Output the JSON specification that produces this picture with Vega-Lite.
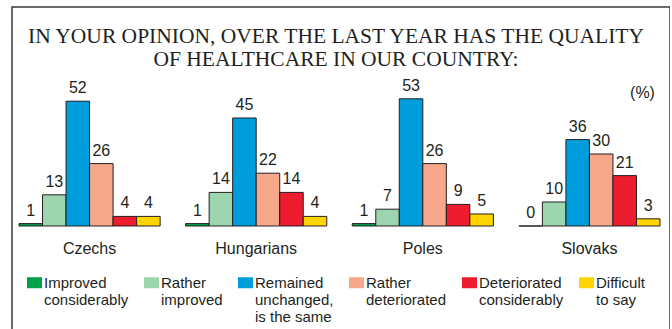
{
  "$schema": "https://vega.github.io/schema/vega-lite/v6.json",
  "autosize": "none",
  "padding": {"left": 12, "top": 7, "right": 0, "bottom": 0},
  "width": 658,
  "height": 325,
  "background": "white",
  "config": {
    "view": {"stroke": "#3a3a3a", "strokeWidth": 1.5},
    "font": "Liberation Sans"
  },
  "title": {
    "text": ["IN YOUR OPINION, OVER THE LAST YEAR HAS THE QUALITY", "OF HEALTHCARE IN OUR COUNTRY:"],
    "font": "Liberation Serif",
    "fontSize": 21.5,
    "fontWeight": "normal",
    "color": "#231f20",
    "lineHeight": 23,
    "anchor": "middle",
    "frame": "group",
    "dx": -5,
    "offset": -63
  },
  "data": {
    "values": [
      {"nation": "Czechs", "cat": "Improved considerably", "value": 1},
      {"nation": "Czechs", "cat": "Rather improved", "value": 13},
      {"nation": "Czechs", "cat": "Remained unchanged, is the same", "value": 52},
      {"nation": "Czechs", "cat": "Rather deteriorated", "value": 26},
      {"nation": "Czechs", "cat": "Deteriorated considerably", "value": 4},
      {"nation": "Czechs", "cat": "Difficult to say", "value": 4},
      {"nation": "Hungarians", "cat": "Improved considerably", "value": 1},
      {"nation": "Hungarians", "cat": "Rather improved", "value": 14},
      {"nation": "Hungarians", "cat": "Remained unchanged, is the same", "value": 45},
      {"nation": "Hungarians", "cat": "Rather deteriorated", "value": 22},
      {"nation": "Hungarians", "cat": "Deteriorated considerably", "value": 14},
      {"nation": "Hungarians", "cat": "Difficult to say", "value": 4},
      {"nation": "Poles", "cat": "Improved considerably", "value": 1},
      {"nation": "Poles", "cat": "Rather improved", "value": 7},
      {"nation": "Poles", "cat": "Remained unchanged, is the same", "value": 53},
      {"nation": "Poles", "cat": "Rather deteriorated", "value": 26},
      {"nation": "Poles", "cat": "Deteriorated considerably", "value": 9},
      {"nation": "Poles", "cat": "Difficult to say", "value": 5},
      {"nation": "Slovaks", "cat": "Improved considerably", "value": 0},
      {"nation": "Slovaks", "cat": "Rather improved", "value": 10},
      {"nation": "Slovaks", "cat": "Remained unchanged, is the same", "value": 36},
      {"nation": "Slovaks", "cat": "Rather deteriorated", "value": 30},
      {"nation": "Slovaks", "cat": "Deteriorated considerably", "value": 21},
      {"nation": "Slovaks", "cat": "Difficult to say", "value": 3}
    ]
  },
  "encoding": {
    "x": {
      "field": "nation",
      "type": "nominal",
      "sort": ["Czechs", "Hungarians", "Poles", "Slovaks"],
      "scale": {"range": [7, 648], "paddingInner": 0.153, "paddingOuter": 0},
      "axis": {
        "title": null,
        "orient": "bottom",
        "domain": false,
        "ticks": false,
        "tickSize": 0,
        "labelPadding": 0,
        "labelBaseline": "top",
        "labelAngle": 0,
        "labelFont": "Liberation Sans",
        "labelFontSize": 16,
        "labelColor": "#231f20",
        "offset": -92,
        "grid": false
      }
    },
    "xOffset": {
      "field": "cat",
      "type": "nominal",
      "sort": ["Improved considerably", "Rather improved", "Remained unchanged, is the same", "Rather deteriorated", "Deteriorated considerably", "Difficult to say"],
      "scale": {"paddingInner": 0, "paddingOuter": 0}
    },
    "y": {
      "field": "value",
      "type": "quantitative",
      "scale": {"domain": [-44.167, 91.25], "nice": false, "zero": false},
      "axis": {
        "orient": "right",
        "title": "(%)",
        "titleAngle": 0,
        "titleX": -28,
        "titleY": 90,
        "titleAlign": "center",
        "titleBaseline": "alphabetic",
        "titleFont": "Liberation Sans",
        "titleFontSize": 16,
        "titleFontWeight": "normal",
        "titleColor": "#231f20",
        "labels": false,
        "ticks": false,
        "domain": false,
        "grid": false
      }
    }
  },
  "layer": [
    {
      "mark": {"type": "bar", "stroke": "#231f20", "strokeWidth": 1},
      "encoding": {
        "y2": {"datum": 0},
        "color": {
          "field": "cat",
          "type": "nominal",
          "scale": {
            "domain": ["Improved considerably", "Rather improved", "Remained unchanged, is the same", "Rather deteriorated", "Deteriorated considerably", "Difficult to say"],
            "range": ["#00a14b", "#9ed5b1", "#009ddc", "#f7a88b", "#ed1c2e", "#ffd400"]
          },
          "legend": {
            "title": null,
            "orient": "none",
            "legendX": 15,
            "legendY": 268,
            "direction": "horizontal",
            "columns": 6,
            "columnPadding": 15,
            "padding": 0,
            "symbolType": "M-1,-0.733H1V0.733H-1Z",
            "symbolSize": 225,
            "symbolStrokeWidth": 0,
            "symbolOffset": 0,
            "labelOffset": 2,
            "labelFont": "Liberation Sans",
            "labelFontSize": 15,
            "labelColor": "#231f20",
            "labelLimit": 200,
            "labelBaseline": "middle",
            "labelExpr": "datum.label == 'Remained unchanged, is the same' ? ['Remained', 'unchanged,', 'is the same'] : datum.label == 'Difficult to say' ? ['Difficult', 'to say', ''] : datum.label == 'Improved considerably' ? ['Improved', 'considerably', ''] : datum.label == 'Rather improved' ? ['Rather', 'improved', ''] : datum.label == 'Rather deteriorated' ? ['Rather', 'deteriorated', ''] : datum.label == 'Deteriorated considerably' ? ['Deteriorated', 'considerably', ''] : datum.label",
            "encode": {"labels": {"update": {"lineHeight": {"value": 19}}}}
          }
        }
      }
    },
    {
      "mark": {"type": "text", "baseline": "alphabetic", "dy": -8, "fontSize": 16, "font": "Liberation Sans", "color": "#231f20"},
      "encoding": {
        "text": {"field": "value", "type": "quantitative"}
      }
    }
  ]
}
